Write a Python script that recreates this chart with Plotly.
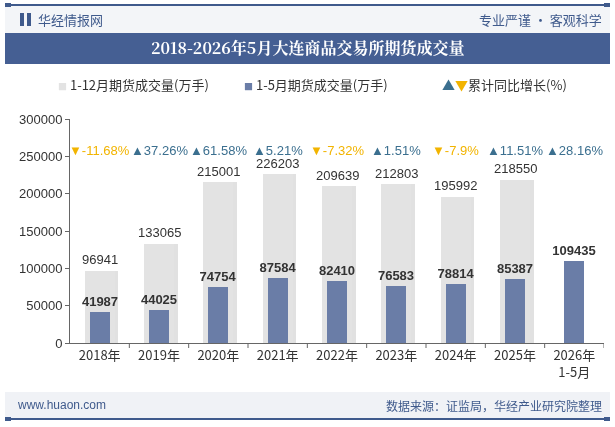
import plotly.graph_objects as go

categories = ["2018年", "2019年", "2020年", "2021年", "2022年", "2023年", "2024年", "2025年", "2026年<br>1-5月"]
full_year = [96941, 133065, 215001, 226203, 209639, 212803, 195992, 218550, None]
jan_may = [41987, 44025, 74754, 87584, 82410, 76583, 78814, 85387, 109435]
growth = ["-11.68%", "37.26%", "61.58%", "5.21%", "-7.32%", "1.51%", "-7.9%", "11.51%", "28.16%"]
yticks = [0, 50000, 100000, 150000, 200000, 250000, 300000]

W, H = 615, 427
L, R, T, B = 70, 11, 119, 84
PW, PH = W - L - R, H - T - B
FONT = "Arial, 'Noto Sans CJK SC', sans-serif"
CJK = "'Noto Sans CJK SC', sans-serif"
BLUE_BAR = "#6a7da7"
GRAY_BAR = "#e3e3e3"
DARK = "#3f5a8c"
UP = "#3b6f8f"
DOWN = "#f2b400"


def fx(px):
    return (px - L) / PW


def fy(py):
    return (H - B - py) / PH


fig = go.Figure()
idx = list(range(len(categories)))
# shadow of gray bars
fig.add_trace(go.Bar(x=idx, y=full_year, width=0.51, offset=-0.255 + 0.06,
                     marker=dict(color="#c9c9c9", line=dict(width=0)), opacity=0.55,
                     hoverinfo="skip", showlegend=False))
fig.add_trace(go.Bar(x=idx, y=full_year, width=0.51, offset=-0.255,
                     marker=dict(color=GRAY_BAR, line=dict(width=0)),
                     name="1-12月期货成交量(万手)", showlegend=False))
fig.add_trace(go.Bar(x=idx, y=jan_may, width=0.34, offset=-0.17,
                     marker=dict(color=BLUE_BAR, line=dict(width=0)),
                     text=[f"<b>{v}</b>" for v in jan_may],
                     textposition="outside", cliponaxis=False, constraintext="none",
                     textfont=dict(family=FONT, size=13, color="#333333"),
                     name="1-5月期货成交量(万手)", showlegend=False))

annotations = []
for i, v in enumerate(full_year):
    if v is None:
        continue
    annotations.append(dict(x=i, y=v, xref="x", yref="y", text=str(v), yshift=11,
                            yanchor="middle", showarrow=False,
                            font=dict(family=FONT, size=13, color="#333333")))
for i, g in enumerate(growth):
    neg = g.startswith("-")
    col = DOWN if neg else UP
    sym = "▼" if neg else "▲"
    annotations.append(dict(x=i, y=fy(141), xref="x", yref="paper",
                            text=f"{sym}{g}",
                            showarrow=False, font=dict(family=FONT, size=13, color=col)))

# legend
annotations += [
    dict(x=fx(56), y=fy(84), xref="paper", yref="paper", xanchor="left", yanchor="middle",
         text="<span style='color:#e3e3e3;font-size:9px'>■</span> 1-12月期货成交量(万手)", showarrow=False,
         font=dict(family=CJK, size=13, color="#333333")),
    dict(x=fx(242), y=fy(84), xref="paper", yref="paper", xanchor="left", yanchor="middle",
         text=f"<span style='color:{BLUE_BAR};font-size:9px'>■</span> 1-5月期货成交量(万手)", showarrow=False,
         font=dict(family=CJK, size=13, color="#333333")),
    dict(x=fx(440), y=fy(84), xref="paper", yref="paper", xanchor="left", yanchor="middle",
         text=f"<span style='color:{UP}'>▲</span><span style='color:{DOWN}'>▼</span>累计同比增长(%)",
         showarrow=False, font=dict(family=CJK, size=13, color="#333333")),
]
# header / footer texts
annotations += [
    dict(x=fx(36), y=fy(19), xref="paper", yref="paper", xanchor="left", yanchor="middle",
         text="华经情报网", showarrow=False, font=dict(family=CJK, size=13, color=DARK)),
    dict(x=fx(604), y=fy(19), xref="paper", yref="paper", xanchor="right", yanchor="middle",
         text="专业严谨 • 客观科学", showarrow=False, font=dict(family=CJK, size=13, color=DARK)),
    dict(x=fx(307.5), y=fy(48), xref="paper", yref="paper", xanchor="center", yanchor="middle",
         text="<b>2018-2026年5月大连商品交易所期货成交量</b>", showarrow=False,
         font=dict(family="'Noto Serif CJK SC', 'Noto Sans CJK SC', serif", size=16, color="white")),
    dict(x=fx(15), y=fy(405), xref="paper", yref="paper", xanchor="left", yanchor="middle",
         text="www.huaon.com", showarrow=False, font=dict(family=FONT, size=12, color=DARK)),
    dict(x=fx(604), y=fy(405), xref="paper", yref="paper", xanchor="right", yanchor="middle",
         text="数据来源：证监局，华经产业研究院整理", showarrow=False,
         font=dict(family=CJK, size=12, color=DARK)),
]


def rect(x0, y0, x1, y1, color, layer="below"):
    return dict(type="rect", xref="paper", yref="paper", x0=fx(x0), x1=fx(x1),
                y0=fy(y1), y1=fy(y0), fillcolor=color, line=dict(width=0), layer=layer)


shapes = [
    rect(5, 6, 610, 33, "#f3f5f8"),
    rect(5, 4, 610, 6, DARK),
    rect(5, 3, 11, 7, DARK),
    rect(604, 3, 610, 7, DARK),
    rect(5, 33, 610, 64, "#455f93"),
    rect(20, 13, 24, 26, DARK, "above"),
    rect(27, 13, 31, 26, DARK, "above"),
    rect(5, 392, 610, 418, "#f0f2f6"),
    rect(5, 418, 610, 420, DARK),
    rect(5, 417, 11, 421, DARK),
    rect(604, 417, 610, 421, DARK),
]
# category boundary ticks on x axis
for k in range(1, 10):
    shapes.append(dict(type="line", xref="x", yref="paper", x0=k - 0.5, x1=k - 0.5,
                       y0=0, y1=-5 / PH, line=dict(color="#666666", width=1)))

fig.update_layout(
    width=W, height=H, margin=dict(l=L, r=R, t=T, b=B),
    paper_bgcolor="white", plot_bgcolor="white",
    barmode="overlay", bargap=0, showlegend=False,
    annotations=annotations, shapes=shapes,
    xaxis=dict(tickmode="array", tickvals=idx, ticktext=categories, range=[-0.5, 8.5],
               showline=True, linecolor="#666666", linewidth=1, showgrid=False, zeroline=False,
               ticks="", tickfont=dict(family=CJK, size=13, color="#333333")),
    yaxis=dict(range=[0, 300000], tickvals=yticks, ticktext=[str(v) for v in yticks],
               showline=True, linecolor="#666666", linewidth=1, showgrid=False, zeroline=False,
               ticks="outside", ticklen=4, tickcolor="#666666",
               tickfont=dict(family=FONT, size=13, color="#333333")),
)

fig.write_html("out.html")
